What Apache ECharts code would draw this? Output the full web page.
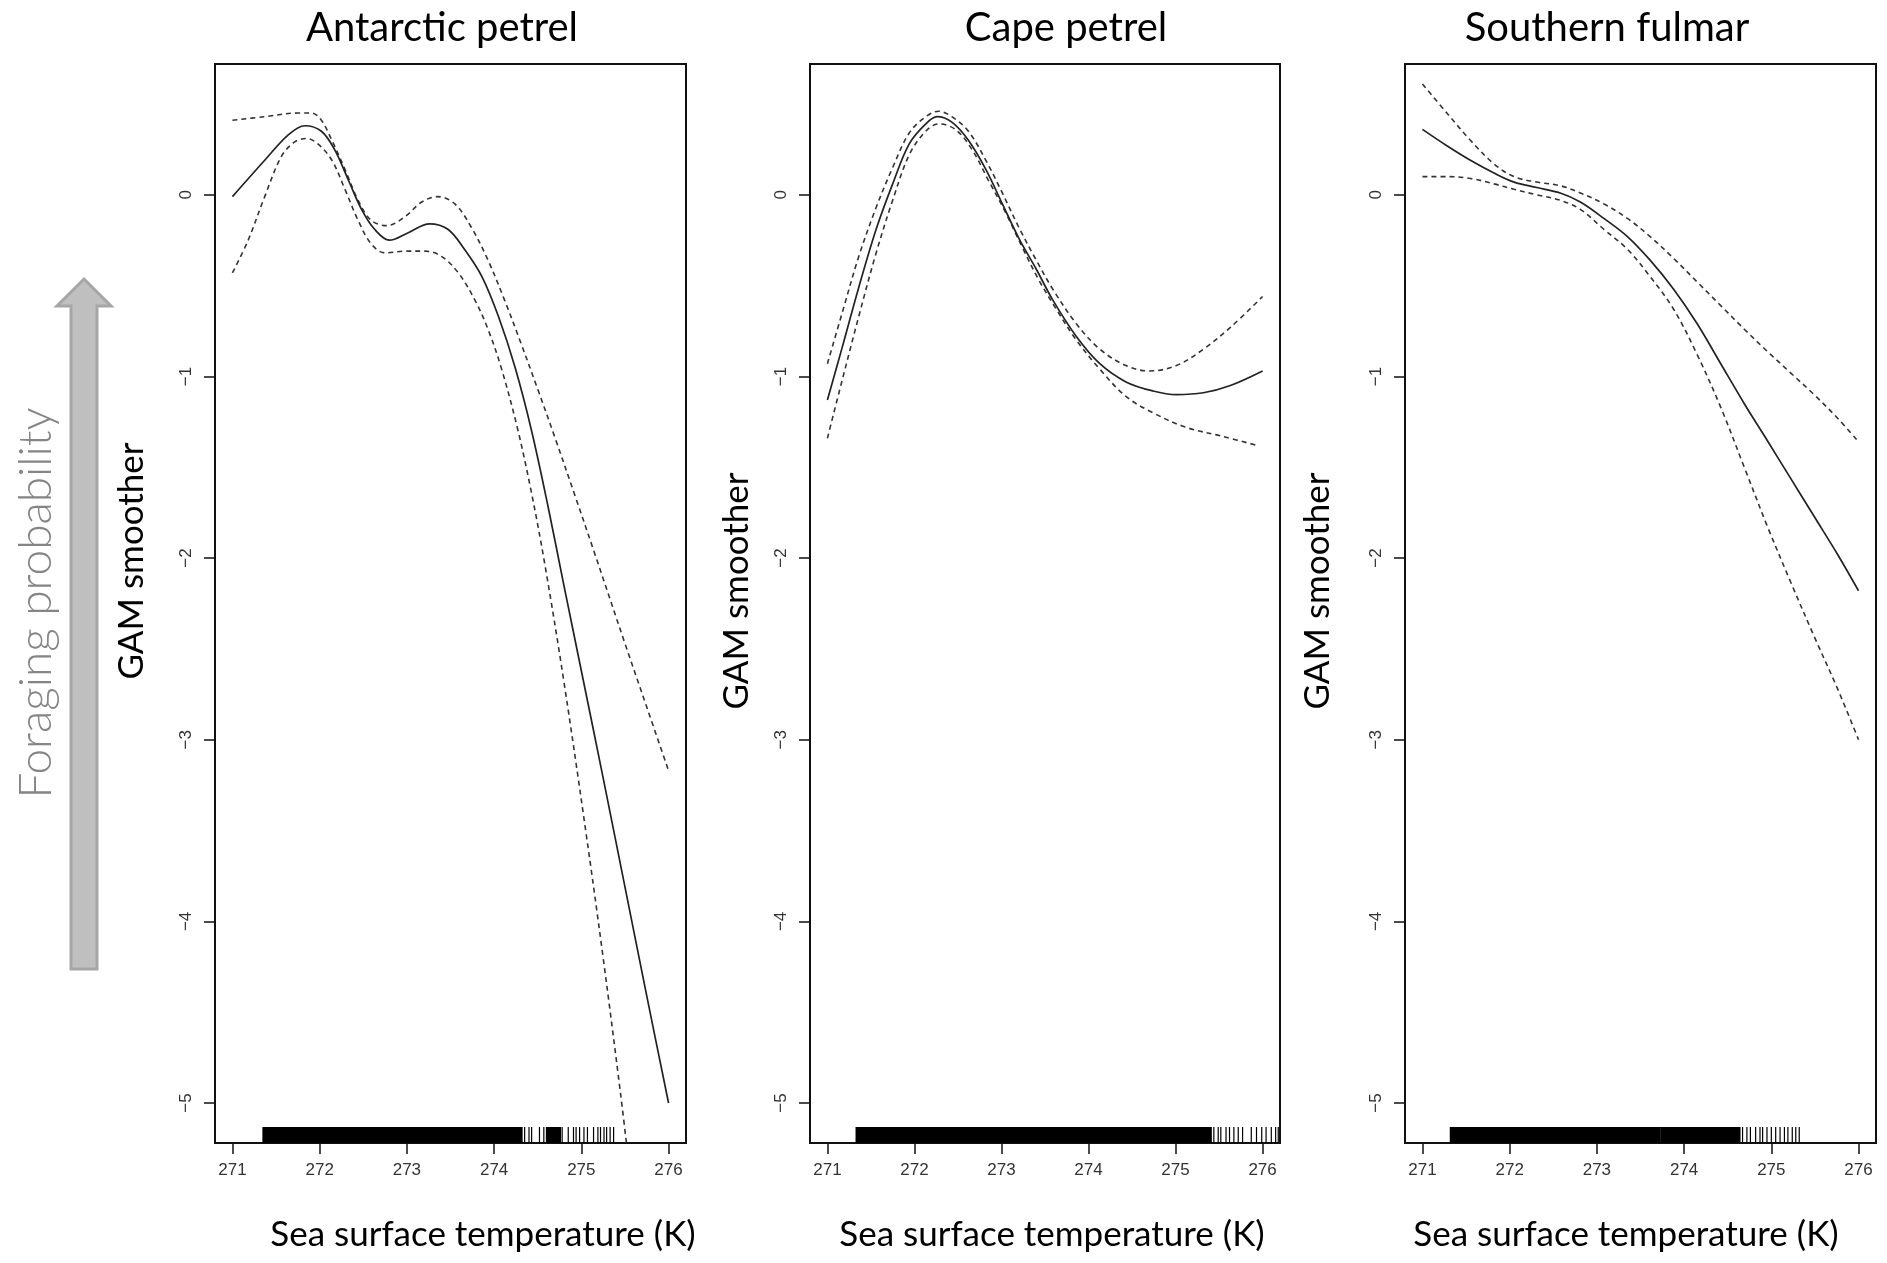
<!DOCTYPE html>
<html>
<head>
<meta charset="utf-8">
<title>GAM smoother vs sea surface temperature</title>
<script src="https://cdn.jsdelivr.net/npm/echarts@6/dist/echarts.min.js"></script>
<style>
  html, body { margin: 0; padding: 0; background: #fff; }
  #chart { width: 1887px; height: 1263px; }
</style>
</head>
<body>
<div id="chart"></div>
<script>
// panel titles and shared ticks
const species = ['Antarctic petrel', 'Cape petrel', 'Southern fulmar'];
const xTicks = [271, 272, 273, 274, 275, 276];
const yTicks = [0, -1, -2, -3, -4, -5];

// Antarctic petrel: [SST (K), smoother]
const apFit = [[271.00, -0.01], [271.37, 0.19], [271.64, 0.33], [271.83, 0.38], [272.02, 0.35], [272.17, 0.25],
  [272.33, 0.08], [272.48, -0.08], [272.63, -0.19], [272.80, -0.25], [273.01, -0.21], [273.26, -0.16],
  [273.47, -0.19], [273.66, -0.30], [273.86, -0.45], [274.05, -0.67], [274.24, -0.95], [274.43, -1.30],
  [274.62, -1.72], [274.80, -2.15], [275.00, -2.62], [275.25, -3.21], [275.50, -3.81], [275.75, -4.41], [276.00, -5.00]];
const apUpper = [[271.00, 0.41], [271.37, 0.43], [271.75, 0.45], [271.91, 0.45], [272.02, 0.41], [272.14, 0.30],
  [272.29, 0.14], [272.44, -0.03], [272.59, -0.14], [272.77, -0.17], [272.98, -0.12], [273.17, -0.04],
  [273.35, -0.01], [273.55, -0.05], [273.74, -0.18], [273.93, -0.36], [274.12, -0.58], [274.31, -0.82],
  [274.50, -1.07], [274.70, -1.34], [274.93, -1.66], [275.15, -1.97], [275.50, -2.47], [275.75, -2.82], [276.00, -3.17]];
const apLower = [[271.00, -0.43], [271.18, -0.25], [271.37, -0.01], [271.56, 0.21], [271.71, 0.29], [271.85, 0.31],
  [271.98, 0.28], [272.14, 0.19], [272.29, 0.03], [272.44, -0.14], [272.59, -0.27], [272.75, -0.32],
  [272.98, -0.31], [273.21, -0.31], [273.40, -0.34], [273.59, -0.43], [273.78, -0.58], [273.93, -0.74],
  [274.08, -0.95], [274.26, -1.27], [274.42, -1.62], [274.58, -2.03], [274.80, -2.68], [275.05, -3.50],
  [275.25, -4.20], [275.45, -4.95], [275.56, -5.40]];
const apRugBlocks = [[271.35, 274.32], [274.60, 274.76]];
const apRugTicks = [274.35, 274.40, 274.43, 274.52, 274.57, 274.78, 274.85, 274.91, 274.94, 274.98, 275.03,
  275.07, 275.14, 275.19, 275.22, 275.26, 275.29, 275.33, 275.37];

// Cape petrel
const cpFit = [[271.00, -1.13], [271.17, -0.84], [271.36, -0.51], [271.56, -0.19], [271.75, 0.06], [271.94, 0.28],
  [272.13, 0.39], [272.26, 0.43], [272.43, 0.40], [272.62, 0.30], [272.82, 0.14], [273.01, -0.05],
  [273.20, -0.24], [273.40, -0.41], [273.59, -0.58], [273.86, -0.78], [274.13, -0.93], [274.43, -1.03],
  [274.74, -1.08], [275.01, -1.10], [275.32, -1.09], [275.63, -1.05], [276.00, -0.97]];
const cpUpper = [[271.00, -0.93], [271.17, -0.65], [271.36, -0.34], [271.56, -0.07], [271.75, 0.15], [271.94, 0.34],
  [272.13, 0.43], [272.28, 0.46], [272.43, 0.43], [272.62, 0.35], [272.82, 0.19], [273.01, 0.01],
  [273.20, -0.18], [273.40, -0.36], [273.59, -0.52], [273.86, -0.71], [274.13, -0.85], [274.43, -0.94],
  [274.70, -0.97], [275.01, -0.94], [275.32, -0.85], [275.63, -0.73], [276.00, -0.56]];
const cpLower = [[271.00, -1.34], [271.17, -1.02], [271.36, -0.67], [271.56, -0.32], [271.75, -0.03], [271.94, 0.22],
  [272.13, 0.35], [272.28, 0.39], [272.47, 0.36], [272.66, 0.25], [272.85, 0.08], [273.05, -0.10],
  [273.24, -0.29], [273.43, -0.47], [273.63, -0.63], [273.86, -0.80], [274.13, -0.96], [274.43, -1.11],
  [274.74, -1.20], [275.12, -1.28], [275.54, -1.33], [275.94, -1.38]];
const cpRugBlocks = [[271.33, 275.41]];
const cpRugTicks = [275.44, 275.49, 275.52, 275.58, 275.62, 275.67, 275.72, 275.77, 275.87, 275.93, 275.99,
  276.04, 276.10, 276.15, 276.18];

// Southern fulmar
const sfFit = [[271.00, 0.36], [271.28, 0.27], [271.55, 0.19], [271.82, 0.12], [272.05, 0.07], [272.31, 0.04],
  [272.58, 0.01], [272.81, -0.04], [273.08, -0.13], [273.35, -0.23], [273.61, -0.36], [273.88, -0.52],
  [274.15, -0.71], [274.42, -0.93], [274.69, -1.15], [274.95, -1.35], [275.22, -1.56], [275.49, -1.77],
  [275.76, -1.98], [276.00, -2.18]];
const sfUpper = [[271.00, 0.61], [271.28, 0.45], [271.55, 0.30], [271.82, 0.17], [272.05, 0.10], [272.31, 0.07],
  [272.58, 0.05], [272.81, 0.01], [273.08, -0.05], [273.35, -0.13], [273.61, -0.23], [273.88, -0.35],
  [274.15, -0.48], [274.42, -0.61], [274.69, -0.74], [274.95, -0.86], [275.22, -0.98], [275.49, -1.10],
  [275.76, -1.23], [276.00, -1.36]];
const sfLower = [[271.00, 0.10], [271.28, 0.10], [271.55, 0.09], [271.82, 0.06], [272.05, 0.03], [272.31, 0.00],
  [272.58, -0.03], [272.81, -0.08], [273.08, -0.19], [273.35, -0.30], [273.61, -0.45], [273.88, -0.63],
  [274.15, -0.88], [274.42, -1.17], [274.69, -1.50], [274.95, -1.82], [275.22, -2.13], [275.49, -2.43],
  [275.76, -2.72], [276.00, -3.00]];
const sfRugBlocks = [[271.32, 273.725], [273.735, 274.64]];
const sfRugTicks = [274.67, 274.72, 274.76, 274.82, 274.87, 274.90, 274.95, 275.00, 275.05, 275.10, 275.15,
  275.19, 275.24, 275.28, 275.32];

const panels = [
  { fit: apFit, upper: apUpper, lower: apLower, blocks: apRugBlocks, ticks: apRugTicks },
  { fit: cpFit, upper: cpUpper, lower: cpLower, blocks: cpRugBlocks, ticks: cpRugTicks },
  { fit: sfFit, upper: sfUpper, lower: sfLower, blocks: sfRugBlocks, ticks: sfRugTicks }
];

// axis limits (R style, 4% padding)
const X_MIN = 270.8, X_MAX = 276.2, Y_MIN = -5.22, Y_MAX = 0.72;
const gridLeft = [215, 810, 1405];
const gridWidth = [471, 470, 471];
const RUG_PX = 16;
const SANS = 'Lato, "Open Sans", sans-serif';
const minus = v => String(v).replace('-', '\u2212');

const chart = echarts.init(document.getElementById('chart'));

const tickStyle = { color: '#111', width: 1.5 };

const lineSeries = (i, data, dashed) => ({
  type: 'line',
  xAxisIndex: i,
  yAxisIndex: i,
  data: data,
  symbol: 'none',
  smooth: 0.35,
  clip: true,
  silent: true,
  lineStyle: dashed
    ? { color: '#333', width: 1.6, type: [5, 4] }
    : { color: '#222', width: 1.7 }
});

const rugSeries = (i, blocks, ticks) => ({
  type: 'custom',
  xAxisIndex: i,
  yAxisIndex: i,
  silent: true,
  clip: true,
  data: blocks.concat(ticks.map(t => [t, t])),
  renderItem: (params, api) => {
    const a = api.coord([api.value(0), Y_MIN]);
    const b = api.coord([api.value(1), Y_MIN]);
    return {
      type: 'rect',
      shape: { x: a[0] - 0.6, y: a[1] - RUG_PX, width: Math.max(b[0] - a[0], 0) + 1.2, height: RUG_PX },
      style: { fill: '#000' }
    };
  }
});

const series = [];
panels.forEach((p, i) => {
  series.push(rugSeries(i, p.blocks, p.ticks));
  series.push(lineSeries(i, p.upper, true));
  series.push(lineSeries(i, p.lower, true));
  series.push(lineSeries(i, p.fit, false));
});

const textEl = (text, x, y, size, opts = {}) => ({
  type: 'text',
  x: x,
  y: y,
  rotation: opts.rotation || 0,
  style: {
    text: text,
    fontSize: size,
    fontFamily: SANS,
    fontWeight: opts.weight || 'normal',
    fill: opts.color || '#000',
    align: 'center',
    verticalAlign: 'middle'
  }
});

const titleX = [442, 1066, 1607];
const xNameX = [483, 1052, 1626];
const yNamePos = [[132, 561], [737, 591], [1318, 591]];

const graphic = [
  // "Foraging probability" arrow
  {
    type: 'polygon',
    shape: { points: [[84, 279], [111, 306], [97, 306], [97, 969], [71, 969], [71, 306], [57, 306]] },
    style: { fill: '#bfbfbf', stroke: '#a6a6a6', lineWidth: 3 }
  },
  textEl('Foraging probability', 36, 603, 46, { rotation: Math.PI / 2, color: '#858585', weight: 300 })
];
species.forEach((name, i) => {
  graphic.push(textEl(name, titleX[i], 28, 40));
  graphic.push(textEl('Sea surface temperature (K)', xNameX[i], 1235, 35));
  graphic.push(textEl('GAM smoother', yNamePos[i][0], yNamePos[i][1], 35, { rotation: Math.PI / 2 }));
});

const option = {
  animation: false,
  backgroundColor: '#fff',
  grid: gridLeft.map((left, i) => ({
    left: left,
    top: 64,
    width: gridWidth[i],
    height: 1079,
    show: true,
    borderColor: '#111',
    borderWidth: 2,
    backgroundColor: 'transparent',
    containLabel: false,
    outerBoundsMode: 'none'
  })),
  xAxis: gridLeft.map((_, i) => ({
    type: 'value',
    gridIndex: i,
    min: X_MIN,
    max: X_MAX,
    axisLine: { show: false, onZero: false },
    axisTick: { show: true, length: 11, lineStyle: tickStyle, customValues: xTicks },
    axisLabel: { customValues: xTicks, margin: 19, color: '#333', fontFamily: 'Liberation Sans, Arial', fontSize: 17 },
    splitLine: { show: false }
  })),
  yAxis: gridLeft.map((_, i) => ({
    type: 'value',
    gridIndex: i,
    min: Y_MIN,
    max: Y_MAX,
    axisLine: { show: false, onZero: false },
    axisTick: { show: true, length: 11, lineStyle: tickStyle, customValues: yTicks },
    axisLabel: {
      customValues: yTicks,
      rotate: 90,
      margin: 20,
      color: '#333',
      fontFamily: 'Liberation Sans, Arial',
      fontSize: 17,
      formatter: minus
    },
    splitLine: { show: false }
  })),
  series: series,
  graphic: graphic
};

chart.setOption(option);
window.addEventListener('resize', () => chart.resize());
</script>
</body>
</html>
